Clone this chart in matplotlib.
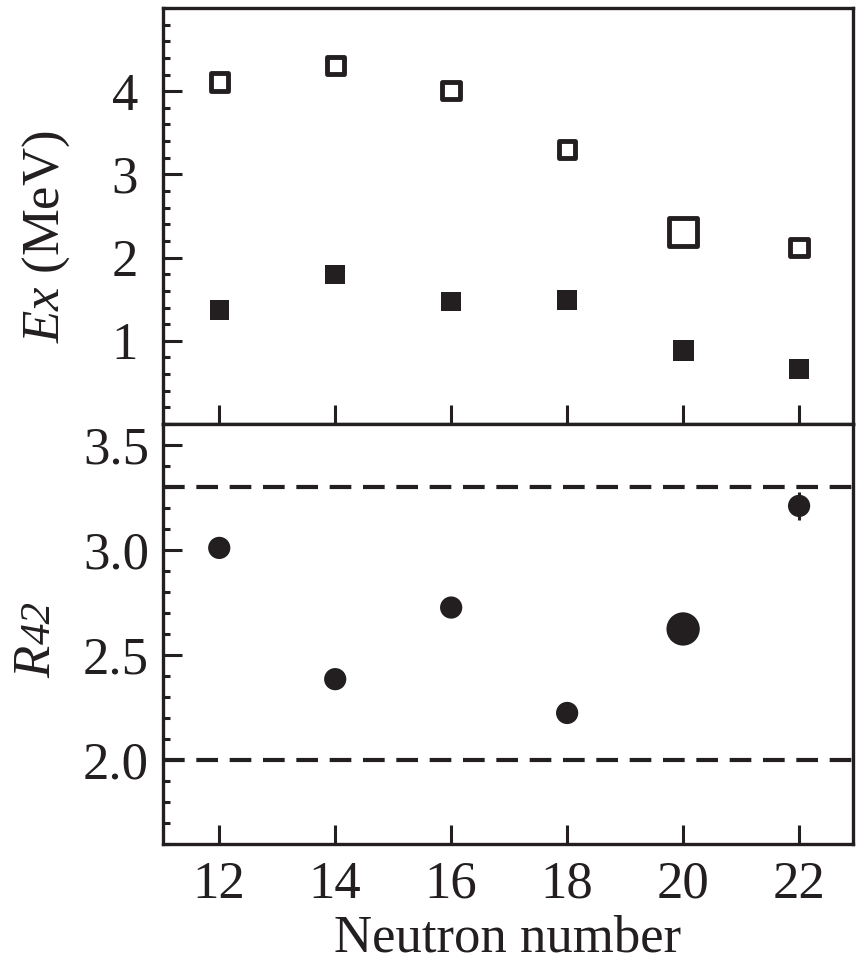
import matplotlib
matplotlib.use("Agg")
import matplotlib.pyplot as plt
from matplotlib.ticker import MultipleLocator

plt.rcParams["font.family"] = "Liberation Serif"
plt.rcParams["mathtext.fontset"] = "custom"
plt.rcParams["mathtext.rm"] = "Liberation Serif"
plt.rcParams["mathtext.it"] = "Liberation Serif:italic"

INK = "#231f20"

# data
neutrons = [12, 14, 16, 18, 20, 22]
ex_4plus = [4.11, 4.31, 4.01, 3.30, 2.31, 2.12]
ex_2plus = [1.37, 1.80, 1.47, 1.49, 0.88, 0.66]
r42 = [3.01, 2.385, 2.726, 2.224, 2.624, 3.21]
r42_err = [0, 0, 0, 0, 0, 0.065]
r42_limits = [3.3, 2.0]

# marker sizes (points); N=20 drawn larger
open_side = [12.5, 12.5, 12.5, 12, 20, 12.5]
fill_side = [14, 14, 14, 14, 15, 14]
circ_diam = [16, 16, 16, 16, 24, 16]

fig = plt.figure(figsize=(8.57, 9.68), dpi=100)
W, H = 857, 968
left, right = 163, 853
ax1 = fig.add_axes([left / W, 1 - 424 / H, (right - left) / W, 416 / H])
ax2 = fig.add_axes([left / W, 1 - 844 / H, (right - left) / W, 420 / H])

# top panel: excitation energies
ax1.scatter(neutrons, ex_4plus, marker="s", s=[v ** 2 for v in open_side],
            facecolors="white", edgecolors=INK, linewidths=3.5, zorder=3)
ax1.scatter(neutrons, ex_2plus, marker="s", s=[v ** 2 for v in fill_side],
            color=INK, linewidths=0, zorder=3)
ax1.set_ylim(0, 5)
ax1.yaxis.set_major_locator(MultipleLocator(1))
ax1.yaxis.set_minor_locator(MultipleLocator(0.2))
ax1.set_yticks([1, 2, 3, 4])

# bottom panel: R42 ratio
for lim in r42_limits:
    ax2.axhline(lim, color=INK, linewidth=3.0, linestyle=(0, (5.2, 2.8)), zorder=1)
ax2.errorbar(neutrons, r42, yerr=r42_err, fmt="none", ecolor=INK,
             elinewidth=2.2, capsize=0, zorder=2)
ax2.scatter(neutrons, r42, marker="o", s=[v ** 2 for v in circ_diam],
            color=INK, linewidths=0, zorder=3)
ax2.set_ylim(1.6, 3.6)
ax2.yaxis.set_major_locator(MultipleLocator(0.5))
ax2.yaxis.set_minor_locator(MultipleLocator(0.1))
ax2.set_yticks([2.0, 2.5, 3.0, 3.5])
ax2.set_yticklabels(["2.0", "2.5", "3.0", "3.5"])

for ax, pad in [(ax1, 18), (ax2, 10)]:
    ax.set_xlim(11.03, 22.93)
    ax.set_xticks(neutrons)
    for sp in ax.spines.values():
        sp.set_linewidth(2.4)
        sp.set_color(INK)
    ax.tick_params(axis="both", which="major", direction="in", length=14,
                   width=2.2, color=INK, labelsize=38, labelcolor=INK)
    ax.tick_params(axis="y", which="major", pad=pad)
    ax.tick_params(axis="y", which="minor", direction="in", length=5,
                   width=2.2, color=INK)
    ax.tick_params(axis="x", which="minor", bottom=False)
    ax.tick_params(top=False, right=False)

ax1.tick_params(axis="x", labelbottom=False)
ax2.tick_params(axis="x", which="major", pad=12)
ax2.set_xlabel("Neutron number", fontsize=38, color=INK, labelpad=4)

fig.text(46 / W, 1 - 237 / H, r"$Ex$ (MeV)", rotation=90, ha="center",
         va="center", fontsize=38, color=INK)
# R with a near full-size, slightly lowered "42"
fig.text(37 / W, 1 - 662 / H, "R", rotation=90, ha="center", va="center",
         fontsize=38, style="italic", color=INK)
fig.text(40 / W, 1 - 623 / H, "42", rotation=90, ha="center", va="center",
         fontsize=31, style="italic", color=INK)

fig.savefig("out.png", dpi=100)
